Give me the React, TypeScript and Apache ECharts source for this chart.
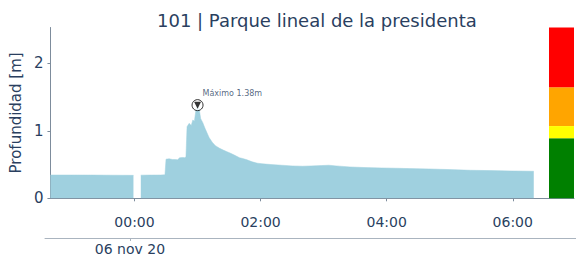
import React, { useEffect, useRef } from "react";
import * as echarts from "echarts";

// Minutes relative to 06 nov 2020 00:00 (negative = 05 nov)
const minutes: number[] = [
  -80, -60, -40, -20, -1, 0, 6, 15, 25, 29, 30, 33, 36, 39, 41, 43, 46, 48, 49, 50,
  52, 54, 55.5, 57, 58.5, 60, 61.5, 63, 65, 67, 69, 71, 74, 77, 81, 85, 88, 91, 95,
  100, 103, 107, 112, 117, 122, 130, 140, 150, 160, 168, 178, 185, 192, 205, 220,
  235, 250, 262, 280, 300, 320, 340, 360, 380,
];
// Depth in metres (null = no data)
const depth: (number | null)[] = [
  0.345, 0.345, 0.344, 0.342, 0.34, null, 0.343, 0.344, 0.345, 0.348, 0.58, 0.585,
  0.575, 0.575, 0.57, 0.6, 0.605, 0.6, 0.62, 1.06, 1.11, 1.08, 1.16, 1.14, 1.31,
  1.38, 1.33, 1.18, 1.12, 1.04, 0.97, 0.9, 0.83, 0.78, 0.74, 0.71, 0.69, 0.67, 0.64,
  0.6, 0.59, 0.57, 0.54, 0.52, 0.51, 0.5, 0.49, 0.48, 0.475, 0.48, 0.485, 0.49,
  0.48, 0.465, 0.455, 0.45, 0.445, 0.44, 0.435, 0.425, 0.415, 0.41, 0.405, 0.4,
];

// Time ticks (minutes) and their labels
const timeTicks: number[] = [0, 120, 240, 360];
const dateTicks: number[] = [0];
const dateLabels: string[] = ["06 nov 20"];

// Alert level bands (upper limits in metres) and colours
const levelTops: number[] = [0.89, 1.07, 1.645, 2.53];
const levelColors: string[] = ["#008000", "#ffff00", "#ffa500", "#ff0000"];

const title = "101 | Parque lineal de la presidenta";
const yName = "Profundidad [m]";
const xMin = -80;
const xMax = 394.5;
const yMax = 2.53;

const TEXT = "#2a3f5f";
const AXIS = "#7d8c9c";

function fmtTime(m: number): string {
  const mm = ((Math.round(m) % 1440) + 1440) % 1440;
  const h = Math.floor(mm / 60);
  const mi = mm % 60;
  return String(h).padStart(2, "0") + ":" + String(mi).padStart(2, "0");
}

export default function App() {
  const ref = useRef<HTMLDivElement>(null);
  useEffect(() => {
    if (!ref.current) return;
    const chart = echarts.init(ref.current, null, { renderer: "svg" });

    const seriesData = minutes.map((m, i) => [m, depth[i]]);
    let maxI = 0;
    depth.forEach((v, i) => {
      if (v != null && v > (depth[maxI] as number)) maxI = i;
    });
    const peak = [minutes[maxI], depth[maxI] as number];

    const mainLeft = 45;
    const mainRight = 549;
    const pxPerMin = (mainRight - mainLeft) / (xMax - xMin);
    const dateMax = xMin + (576 - mainLeft) / pxPerMin;

    const bands = levelTops.map((t, i) => (i === 0 ? t : t - levelTops[i - 1]));

    const font = "DejaVu Sans";

    chart.setOption({
      animation: false,
      title: {
        text: title,
        left: 152,
        top: 6,
        textStyle: { fontFamily: font, fontSize: 18, fontWeight: "normal", color: TEXT },
      },
      grid: [
        { left: mainLeft, top: 27.5, width: mainRight - mainLeft, height: 170.8 },
        { left: 549, top: 27.5, width: 25, height: 170.8 },
        { left: mainLeft, top: 27.5, width: 576 - mainLeft, height: 211.5 },
      ],
      xAxis: [
        {
          type: "value",
          gridIndex: 0,
          min: xMin,
          max: xMax,
          splitLine: { show: false },
          axisLine: { onZero: false, lineStyle: { color: AXIS, width: 1 } },
          axisTick: { customValues: timeTicks, length: 3, lineStyle: { color: AXIS } },
          axisLabel: {
            customValues: timeTicks,
            formatter: (v: number) => fmtTime(v),
            fontFamily: font,
            fontSize: 14,
            color: TEXT,
            margin: 17,
          },
        },
        {
          type: "category",
          gridIndex: 1,
          data: ["nivel"],
          axisLine: { onZero: false, lineStyle: { color: AXIS, width: 1 } },
          axisTick: { show: false },
          axisLabel: { show: false },
        },
        {
          type: "value",
          gridIndex: 2,
          min: xMin,
          max: dateMax,
          splitLine: { show: false },
          axisLine: { onZero: false, lineStyle: { color: "#aab4bf", width: 1 } },
          axisTick: { customValues: dateTicks, length: 3, lineStyle: { color: "#aab4bf" } },
          axisLabel: {
            customValues: dateTicks,
            formatter: (v: number) => dateLabels[dateTicks.indexOf(v)] ?? "",
            fontFamily: font,
            fontSize: 14,
            color: TEXT,
            margin: 4,
          },
        },
      ],
      yAxis: [
        {
          type: "value",
          gridIndex: 0,
          min: 0,
          max: yMax,
          interval: 1,
          name: yName,
          nameLocation: "middle",
          nameGap: 12,
          nameTextStyle: { fontFamily: font, fontSize: 15, color: TEXT },
          splitLine: { show: false },
          axisLine: { show: true, onZero: false, lineStyle: { color: AXIS, width: 1 } },
          axisTick: { show: true, length: 3, lineStyle: { color: AXIS } },
          axisLabel: {
            fontFamily: font,
            fontSize: 15,
            color: TEXT,
            margin: 7,
            showMaxLabel: false,
            formatter: (v: number) => (v <= 2 ? String(v) : ""),
          },
        },
        {
          type: "value",
          gridIndex: 1,
          min: 0,
          max: yMax,
          show: false,
          axisLine: { onZero: false },
        },
        {
          type: "value",
          gridIndex: 2,
          min: 0,
          max: 1,
          show: false,
          axisLine: { show: false, onZero: false },
        },
      ],
      series: [
        {
          type: "line",
          xAxisIndex: 0,
          yAxisIndex: 0,
          data: seriesData,
          showSymbol: false,
          connectNulls: false,
          lineStyle: { color: "#9fd0df", width: 0.5 },
          areaStyle: { color: "#9fd0df", opacity: 1 },
          itemStyle: { color: "#9fd0df" },
        },
        ...bands.map((b, i) => ({
          type: "bar",
          xAxisIndex: 1,
          yAxisIndex: 1,
          stack: "levels",
          barWidth: "100%",
          data: [b],
          itemStyle: { color: levelColors[i] },
        })),
        {
          type: "scatter",
          xAxisIndex: 0,
          yAxisIndex: 0,
          data: [peak],
          symbol: "circle",
          symbolSize: 11,
          itemStyle: { color: "#ffffff", borderColor: "#000000", borderWidth: 1 },
          label: {
            show: true,
            formatter: () => "Máximo " + peak[1].toFixed(2) + "m",
            position: [11, -10],
            align: "left",
            verticalAlign: "top",
            fontFamily: font,
            fontSize: 8,
            color: TEXT,
          },
          z: 5,
        },
        {
          type: "scatter",
          xAxisIndex: 0,
          yAxisIndex: 0,
          data: [peak],
          symbol: "triangle",
          symbolRotate: 180,
          symbolSize: 7,
          itemStyle: { color: "#000000" },
          z: 6,
        },
      ],
    });
    return () => chart.dispose();
  }, []);
  return (
    <div
      ref={ref}
      style={{ position: "fixed", left: 0, top: 0, width: 576, height: 256, background: "#fff" }}
    />
  );
}
